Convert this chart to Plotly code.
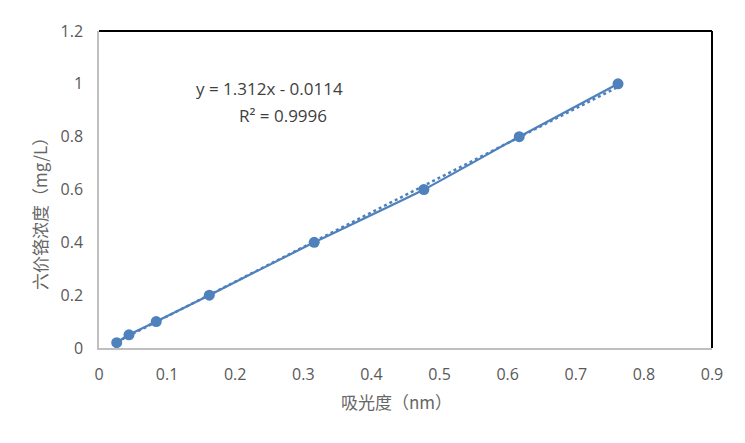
import plotly.graph_objects as go

absorbance = [0.026, 0.044, 0.084, 0.162, 0.316, 0.477, 0.617, 0.762]
concentration = [0.02, 0.05, 0.1, 0.2, 0.4, 0.6, 0.8, 1.0]
slope = 1.312
intercept = -0.0114
x_ticks = [0, 0.1, 0.2, 0.3, 0.4, 0.5, 0.6, 0.7, 0.8, 0.9]
y_ticks = [0, 0.2, 0.4, 0.6, 0.8, 1.0, 1.2]
y_tick_text = ["0", "0.2", "0.4", "0.6", "0.8", "1", "1.2"]
x_tick_text = ["0", "0.1", "0.2", "0.3", "0.4", "0.5", "0.6", "0.7", "0.8", "0.9"]

blue = "#4F81BD"
fig = go.Figure()
trend_x = [absorbance[0], absorbance[-1]]
trend_y = [slope * v + intercept for v in trend_x]
fig.add_trace(go.Scatter(x=trend_x, y=trend_y, mode="lines",
                         line=dict(color=blue, width=2.5, dash="dot"), showlegend=False))
fig.add_trace(go.Scatter(x=absorbance, y=concentration, mode="lines+markers",
                         line=dict(color=blue, width=2.2, shape="spline", smoothing=0.6),
                         marker=dict(color=blue, size=11), showlegend=False))

grey = "#595959"
tickfont = dict(family="Open Sans, sans-serif", size=16, color=grey)
titlefont = dict(family="Noto Sans CJK SC, sans-serif", size=17, color="#666666")
fig.update_layout(
    width=729, height=427,
    margin=dict(l=91, r=25, t=14, b=87),
    paper_bgcolor="white", plot_bgcolor="white",
    font=dict(family="Open Sans, sans-serif", color=grey, size=13),
    xaxis=dict(range=[0, 0.9], tickvals=x_ticks, ticktext=x_tick_text,
               showgrid=False, zeroline=False, showline=True, linecolor="#BFBFBF", linewidth=1.5,
               ticks="", ticklabelstandoff=11, tickfont=tickfont),
    yaxis=dict(range=[0, 1.2], tickvals=y_ticks, ticktext=y_tick_text,
               showgrid=False, zeroline=False, showline=True, linecolor="#BFBFBF", linewidth=1.5,
               ticks="", ticklabelstandoff=11, tickfont=tickfont),
    shapes=[
        dict(type="line", xref="paper", yref="paper", x0=0, x1=1, y0=1, y1=1,
             line=dict(color="black", width=2)),
        dict(type="line", xref="paper", yref="paper", x0=1, x1=1, y0=0, y1=1,
             line=dict(color="black", width=2)),
    ],
    annotations=[
        dict(x=0.25, y=0.983, xref="x", yref="y", text="y = 1.312x - 0.0114", showarrow=False,
             xanchor="center", yanchor="middle",
             font=dict(family="Open Sans, sans-serif", size=17, color="#404040")),
        dict(x=0.27, y=0.88, xref="x", yref="y", text="R² = 0.9996", showarrow=False,
             xanchor="center", yanchor="middle",
             font=dict(family="Open Sans, sans-serif", size=17, color="#404040")),
        dict(x=0.486, y=-0.169, xref="paper", yref="paper", text="吸光度（nm）", showarrow=False,
             xanchor="center", yanchor="middle", font=titlefont),
        dict(x=-0.096, y=0.436, xref="paper", yref="paper", text="六价铬浓度（mg/L）", showarrow=False,
             xanchor="center", yanchor="middle", textangle=-90, font=titlefont),
    ],
)
fig.write_html("out.html")
